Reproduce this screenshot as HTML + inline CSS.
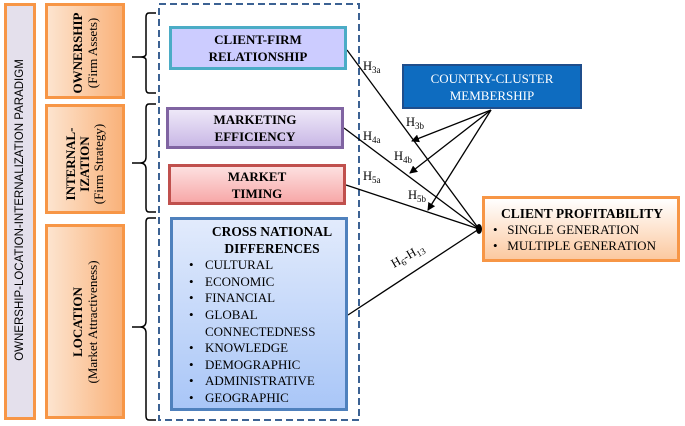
<!DOCTYPE html>
<html><head><style>
body{margin:0;width:685px;height:426px;background:#fff;overflow:hidden;position:relative;font-family:"Liberation Serif",serif}
.b{position:absolute;box-sizing:border-box}
.v{position:absolute;transform:rotate(-90deg);transform-origin:center;text-align:center;white-space:nowrap}
.t{font-weight:bold;text-align:center;font-size:13px;line-height:17px;display:flex;flex-direction:column;justify-content:center;align-items:center}
</style></head><body>
<div class="b" style="left:4px;top:3px;width:32px;height:417px;background:#e4e0ec;border:3px solid #f79646"></div>
<div class="v" style="left:-189px;top:204px;width:418px;font-family:'Liberation Sans',sans-serif;font-size:11.5px">OWNERSHIP-LOCATION-INTERNALIZATION PARADIGM</div>
<div class="b" style="left:45px;top:3px;width:80px;height:96px;background:linear-gradient(90deg,#fde4cf,#f9b27a);border:3px solid #f79646"></div>
<div class="v" style="left:35px;top:38px;width:100px;font-size:13px;line-height:15px"><b>OWNERSHIP</b><br>(Firm Assets)</div>
<div class="b" style="left:45px;top:104px;width:80px;height:110px;background:linear-gradient(90deg,#fde4cf,#f9b27a);border:3px solid #f79646"></div>
<div class="v" style="left:30px;top:143px;width:110px;font-size:13px;line-height:14px"><b>INTERNAL-<br>IZATION</b><br>(Firm Strategy)</div>
<div class="b" style="left:45px;top:224px;width:80px;height:195px;background:linear-gradient(90deg,#fde4cf,#f9b27a);border:3px solid #f79646"></div>
<div class="v" style="left:-15px;top:307px;width:200px;font-size:13px;line-height:15px"><b>LOCATION</b><br>(Market Attractiveness)</div>
<svg class="b" style="left:0;top:0" width="685" height="426">
<defs><marker id="a" markerWidth="8" markerHeight="8" refX="7" refY="4" orient="auto" markerUnits="userSpaceOnUse"><path d="M0,0L8,4L0,8z"/></marker></defs>
<g fill="none" stroke="#000" stroke-width="1.5">
<path d="M156,13 h-7 q-3,0 -3,4 v37 q0,3 -6,3 h-8 M140,57 q6,0 6,3 v29 q0,4 3,4 h7"/>
<path d="M156,104 h-7 q-3,0 -3,4 v49 q0,6 -6,6 h-8 M140,163 q6,0 6,6 v39 q0,4 3,4 h7"/>
<path d="M156,218 h-7 q-3,0 -3,4 v99 q0,6 -6,6 h-8 M140,327 q6,0 6,6 v83 q0,4 3,4 h7"/>
</g>
<rect x="159" y="4" width="200" height="416" fill="none" stroke="#3c6293" stroke-width="2" stroke-dasharray="7,4"/>
<g stroke="#000" stroke-width="1.3" fill="none">
<line x1="347" y1="50" x2="479" y2="229"/>
<line x1="344" y1="128" x2="479" y2="229"/>
<line x1="346" y1="185" x2="479" y2="229"/>
<line x1="348" y1="315" x2="479" y2="229"/>
<line x1="491" y1="110" x2="412" y2="141" marker-end="url(#a)"/>
<line x1="491" y1="110" x2="410" y2="173" marker-end="url(#a)"/>
<line x1="491" y1="110" x2="428" y2="210" marker-end="url(#a)"/>
</g>
<ellipse cx="479" cy="229" rx="3" ry="5" fill="#000"/>
<g font-family="Liberation Serif,serif" font-size="12.5">
<text x="363" y="70">H<tspan font-size="9" dy="3">3a</tspan></text>
<text x="406" y="126">H<tspan font-size="9" dy="3">3b</tspan></text>
<text x="363" y="140">H<tspan font-size="9" dy="3">4a</tspan></text>
<text x="394" y="160">H<tspan font-size="9" dy="3">4b</tspan></text>
<text x="363" y="180">H<tspan font-size="9" dy="3">5a</tspan></text>
<text x="408" y="199">H<tspan font-size="9" dy="3">5b</tspan></text>
<text transform="translate(394,268) rotate(-30)">H<tspan font-size="9" dy="3">6</tspan><tspan dy="-3">-H</tspan><tspan font-size="9" dy="3">13</tspan></text>
</g>
</svg>
<div class="b t" style="left:169px;top:26px;width:178px;height:44px;background:#ccccff;border:3px solid #4bacc6">CLIENT-FIRM<br>RELATIONSHIP</div>
<div class="b t" style="left:166px;top:107px;width:178px;height:42px;background:linear-gradient(#eee8f8,#c9b8e6);border:3px solid #8064a2">MARKETING<br>EFFICIENCY</div>
<div class="b t" style="left:168px;top:164px;width:178px;height:41px;background:linear-gradient(#fde0e0,#f7a8a8);border:3px solid #c0504d">MARKET<br>TIMING</div>
<div class="b" style="left:170px;top:217px;width:178px;height:194px;background:linear-gradient(#e2ebfc,#a9c6f7);border:3px solid #4f81bd;font-size:13px;line-height:16.6px;padding:4px 0 0 16px">
<div style="font-weight:bold;text-align:center;font-size:13.5px;padding-left:10px">CROSS NATIONAL<br>DIFFERENCES</div>
<div style="display:grid;grid-template-columns:16px auto">
<span>•</span><span>CULTURAL</span><span>•</span><span>ECONOMIC</span><span>•</span><span>FINANCIAL</span><span>•</span><span>GLOBAL<br>CONNECTEDNESS</span><span>•</span><span>KNOWLEDGE</span><span>•</span><span>DEMOGRAPHIC</span><span>•</span><span>ADMINISTRATIVE</span><span>•</span><span>GEOGRAPHIC</span></div></div>
<div class="b t" style="left:402px;top:64px;width:180px;height:45px;background:#0e6cc0;border:2px solid #1f4e8c;color:#fff;font-weight:normal;font-size:13px">COUNTRY-CLUSTER<br>MEMBERSHIP</div>
<div class="b" style="left:482px;top:196px;width:198px;height:66px;background:linear-gradient(#fff,#fcc9a0);border:3px solid #f79646;font-size:13px;line-height:16px;padding:7px 0 0 8px">
<div style="font-weight:bold;font-size:13.5px;text-align:center;padding-right:6px">CLIENT PROFITABILITY</div>
<div>•&nbsp;&nbsp; SINGLE GENERATION</div><div>•&nbsp;&nbsp; MULTIPLE GENERATION</div></div>
</body></html>
